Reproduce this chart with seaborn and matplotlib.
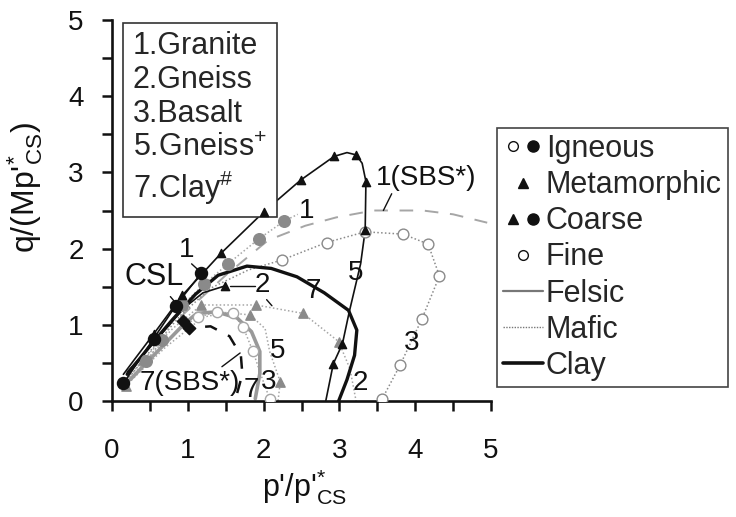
import numpy as np
import pandas as pd
import matplotlib
matplotlib.use("Agg")
import matplotlib.pyplot as plt
import seaborn as sns
from matplotlib.lines import Line2D
from matplotlib.legend_handler import HandlerTuple

# ---------------- data: normalised stress paths ----------------
# Gneiss (black, triangles, thin solid) - path and marker points
gn5_x = [2.82, 2.92, 3.04, 3.13, 3.28, 3.34, 3.35, 3.30, 3.22, 3.10, 2.93, 2.49, 2.00, 1.44, 0.93, 0.55, 0.30, 0.15]
gn5_y = [0.00, 0.49, 0.75, 1.17, 1.80, 2.24, 2.88, 3.12, 3.23, 3.26, 3.21, 2.90, 2.48, 1.94, 1.39, 0.88, 0.55, 0.35]
gn5_mx = [2.92, 3.04, 3.34, 3.35, 3.22, 2.93, 2.49, 2.00, 1.44, 0.93, 0.55]
gn5_my = [0.49, 0.75, 2.24, 2.88, 3.23, 3.21, 2.90, 2.48, 1.94, 1.39, 0.88]

# Granite (black filled circles, thin solid)
gr_x = [0.15, 0.55, 0.84, 1.18]
gr_y = [0.23, 0.82, 1.25, 1.68]

# Granite (grey filled circles, dotted)
grg_x = [0.22, 0.45, 0.66, 0.93, 1.21, 1.53, 1.94, 2.27, 2.45]
grg_y = [0.25, 0.52, 0.80, 1.26, 1.53, 1.80, 2.13, 2.36, 2.45]
grg_mx = [0.45, 0.66, 0.93, 1.21, 1.53, 1.94, 2.27]
grg_my = [0.52, 0.80, 1.26, 1.53, 1.80, 2.13, 2.36]

# Granite SBS (grey dashed)
sbs1_x = [0.90, 1.50, 2.06, 2.55, 2.96, 3.45, 4.10, 4.50, 4.95]
sbs1_y = [1.10, 1.65, 2.11, 2.30, 2.41, 2.50, 2.50, 2.45, 2.34]

# Basalt (grey open circles, dotted)
bas_x = [3.56, 3.80, 4.09, 4.32, 4.17, 3.84, 3.34, 2.83, 2.24, 1.80, 1.30, 0.90, 0.50, 0.18]
bas_y = [0.02, 0.47, 1.08, 1.64, 2.06, 2.19, 2.22, 2.08, 1.85, 1.72, 1.48, 1.12, 0.65, 0.25]
bas_mx = [3.56, 3.80, 4.09, 4.32, 4.17, 3.84, 3.34, 2.83, 2.24]
bas_my = [0.02, 0.47, 1.08, 1.64, 2.06, 2.19, 2.22, 2.08, 1.85]

# Clay (black, thick solid)
clay_x = [0.20, 0.50, 0.80, 1.10, 1.40, 1.78, 2.10, 2.44, 2.80, 3.12, 3.23, 3.20, 3.10, 2.99]
clay_y = [0.35, 0.72, 1.07, 1.40, 1.65, 1.77, 1.74, 1.63, 1.42, 1.19, 0.93, 0.60, 0.28, 0.00]

# Gneiss (black triangles, thin solid, short)
gn2b_x = [0.20, 0.60, 0.95, 1.20, 1.49]
gn2b_y = [0.38, 0.82, 1.22, 1.42, 1.51]

# Gneiss (grey triangles, dotted)
gn2_x = [0.15, 0.41, 0.80, 1.18, 1.90, 2.52, 2.99, 3.14, 3.22]
gn2_y = [0.22, 0.54, 0.95, 1.26, 1.26, 1.15, 0.78, 0.42, 0.00]
gn2_mx = [0.41, 1.18, 1.90, 2.52, 2.99]
gn2_my = [0.54, 1.26, 1.26, 1.15, 0.78]

# Clay (grey, thick solid)
clayg_x = [0.24, 0.60, 0.96, 1.12, 1.38, 1.65, 1.84, 1.95, 1.95, 1.89]
clayg_y = [0.28, 0.65, 1.02, 1.15, 1.17, 1.09, 0.91, 0.65, 0.36, 0.03]

# Basalt (grey open circles, dotted, small loop)
basg_x = [0.20, 0.60, 1.00, 1.14, 1.38, 1.60, 1.73, 1.86, 1.98, 2.08]
basg_y = [0.25, 0.70, 1.02, 1.10, 1.17, 1.15, 0.97, 0.65, 0.30, 0.03]
basg_mx = [1.14, 1.38, 1.60, 1.73, 1.86, 2.08]
basg_my = [1.10, 1.17, 1.15, 0.97, 0.65, 0.03]

# Gneiss+ (grey triangles, dotted, small loop)
gn5g_x = [0.18, 0.70, 1.20, 1.50, 1.82, 2.02, 2.08, 2.15, 2.22, 2.19]
gn5g_y = [0.20, 0.70, 1.10, 1.16, 1.13, 0.95, 0.65, 0.45, 0.25, 0.00]
gn5g_mx = [0.18, 1.82, 2.22]
gn5g_my = [0.20, 1.13, 0.25]

# Clay SBS (black dashed, squares)
sbs7_x = [0.94, 1.02, 1.30, 1.55, 1.70, 1.72, 1.65, 1.60]
sbs7_y = [1.05, 0.96, 0.98, 0.85, 0.60, 0.35, 0.10, 0.00]
sbs7_mx = [0.94, 1.02]
sbs7_my = [1.05, 0.96]

# ---------------- style ----------------
sns.set_theme(style="ticks")
plt.rcParams["font.family"] = ["Liberation Sans", "DejaVu Sans"]
plt.rcParams["mathtext.fontset"] = "custom"
plt.rcParams["mathtext.rm"] = "Liberation Sans"
plt.rcParams["mathtext.it"] = "Liberation Sans"
plt.rcParams["mathtext.default"] = "regular"

BLACK = "#111111"
GREY = "#8a8a8a"
LGREY = "#a6a6a6"
FS = 22      # box, legend and axis labels
FT = 20      # tick labels
FA = 20      # curve annotations

fig = plt.figure(figsize=(7.36, 5.17), dpi=100)
ax = fig.add_axes([112 / 736, 116 / 517, 379 / 736, 381 / 517])


def path(x, y, **kw):
    d = pd.DataFrame({"x": x, "y": y})
    sns.lineplot(data=d, x="x", y="y", sort=False, estimator=None, ax=ax, **kw)


def marks(x, y, **kw):
    d = pd.DataFrame({"x": x, "y": y})
    sns.scatterplot(data=d, x="x", y="y", ax=ax, linewidth=1.0, zorder=5, **kw)


dot = (0, (1, 1.5))

# grey series
path(sbs1_x, sbs1_y, color=LGREY, lw=1.4, linestyle=(0, (7, 6)))
path(bas_x, bas_y, color=GREY, lw=1.1, linestyle=dot)
marks(bas_mx, bas_my, marker="o", s=60, facecolor="white", edgecolor=GREY)
path(grg_x, grg_y, color=LGREY, lw=1.1, linestyle=dot)
marks(grg_mx, grg_my, marker="o", s=70, color=GREY, edgecolor=GREY)
path(gn2_x, gn2_y, color=LGREY, lw=1.1, linestyle=dot)
marks(gn2_mx, gn2_my, marker="^", s=45, color=GREY, edgecolor=GREY)
path(basg_x, basg_y, color=LGREY, lw=1.1, linestyle=dot)
marks(basg_mx, basg_my, marker="o", s=55, facecolor="white", edgecolor=LGREY)
path(gn5g_x, gn5g_y, color=LGREY, lw=1.1, linestyle=dot)
marks(gn5g_mx, gn5g_my, marker="^", s=45, color=GREY, edgecolor=GREY)
path(clayg_x, clayg_y, color="#999999", lw=2.6)

# black series
path(clay_x, clay_y, color=BLACK, lw=2.4)
path(gn5_x, gn5_y, color=BLACK, lw=1.2)
marks(gn5_mx, gn5_my, marker="^", s=35, color=BLACK, edgecolor=BLACK)
path(gr_x, gr_y, color=BLACK, lw=1.2)
marks(gr_x, gr_y, marker="o", s=75, color=BLACK, edgecolor=BLACK)
path(gn2b_x, gn2b_y, color=BLACK, lw=1.2)
marks(gn2b_x[-1:], gn2b_y[-1:], marker="^", s=35, color=BLACK, edgecolor=BLACK)
path(sbs7_x, sbs7_y, color=BLACK, lw=1.8, linestyle=(0, (5, 5)))
marks(sbs7_mx, sbs7_my, marker="D", s=40, color=BLACK, edgecolor=BLACK)

# ---------------- labels on curves ----------------
def lab(x, y, s, **kw):
    ax.text(x, y, s, fontsize=FA, ha="center", va="center", color=BLACK, zorder=8, **kw)


def lead(x0, y0, x1, y1):
    ax.plot([x0, x1], [y0, y1], color=BLACK, lw=1.0, zorder=7)


lab(0.99, 1.98, "1")
lead(1.05, 1.80, 1.17, 1.69)
ax.text(0.55, 1.63, "CSL", fontsize=FS, ha="center", va="center", color=BLACK, zorder=8)
lead(0.77, 1.37, 0.88, 1.24)
lab(2.57, 2.50, "1")
lab(1.98, 1.52, "2")
lead(1.56, 1.51, 1.89, 1.51)
lead(2.04, 1.33, 2.11, 1.25)
lab(2.66, 1.45, "7")
lab(3.22, 1.68, "5")
lab(2.19, 0.66, "5")
lab(3.95, 0.76, "3")
lab(3.27, 0.23, "2")
lab(4.15, 2.92, "1(SBS*)")
lead(3.69, 2.72, 3.58, 2.50)
lab(1.03, 0.24, "7(SBS*)")
lead(1.45, 0.45, 1.69, 0.63)
lab(1.84, 0.15, "7")
lab(2.07, 0.25, "3")

# ---------------- axes ----------------
ax.set_xlim(0, 5)
ax.set_ylim(0, 5)
ax.set_xticks(range(6))
ax.set_yticks(range(6))
ax.set_xticks(np.arange(0.5, 5, 1.0), minor=True)
ax.set_yticks(np.arange(0.5, 5, 1.0), minor=True)
ax.tick_params(which="both", direction="out", length=7.5, width=1.8, color=BLACK,
               labelsize=FT, labelcolor=BLACK)
ax.tick_params(axis="x", which="both", pad=19)
ax.tick_params(axis="y", which="both", pad=13)
for side in ("top", "right"):
    ax.spines[side].set_visible(False)
for side in ("left", "bottom"):
    ax.spines[side].set_linewidth(1.9)
    ax.spines[side].set_color(BLACK)
ax.set_xlabel("p'/p$'^{*}_{CS}$", fontsize=FS, color=BLACK)
ax.set_ylabel("q/(Mp$'^{*}_{CS}$)", fontsize=FS + 1, color=BLACK)
ax.xaxis.set_label_coords(0.509, -0.175)
ax.yaxis.set_label_coords(-0.178, 0.56)

# rock names box
ax.text(133 / 736, 1 - 31 / 517,
        "1.Granite\n2.Gneiss\n3.Basalt\n5.Gneiss$^{+}$\n7.Clay$^{\\#}$",
        transform=fig.transFigure, fontsize=FS, va="top", ha="left", linespacing=1.18,
        bbox=dict(boxstyle="square,pad=0.33", facecolor="white", edgecolor="#333333", lw=1.2))

# symbol legend
o_open = Line2D([], [], marker="o", ls="none", ms=7, mfc="white", mec=BLACK, mew=1)
o_fill = Line2D([], [], marker="o", ls="none", ms=8, mfc=BLACK, mec=BLACK)
tri = Line2D([], [], marker="^", ls="none", ms=7, mfc=BLACK, mec=BLACK)
handles = [(o_open, o_fill), tri, (tri, o_fill), o_open,
           Line2D([], [], color="#777777", lw=1.6),
           Line2D([], [], color="#777777", lw=1.0, ls=(0, (1, 1))),
           Line2D([], [], color=BLACK, lw=2.6)]
labels = ["Igneous", "Metamorphic", "Coarse", "Fine", "Felsic", "Mafic", "Clay"]
leg = ax.legend(handles, labels, loc="upper left",
                bbox_to_anchor=(497 / 736, 1 - 128 / 517), bbox_transform=fig.transFigure,
                fontsize=FS, frameon=True, fancybox=False, handlelength=1.3, handletextpad=0.1,
                labelspacing=0.2, borderpad=0.2, borderaxespad=0,
                handler_map={tuple: HandlerTuple(ndivide=None, pad=0.05)})
leg.get_frame().set_edgecolor("#444444")
leg.get_frame().set_linewidth(1.2)
leg.get_frame().set_alpha(1)

fig.savefig("out.png", dpi=100)
